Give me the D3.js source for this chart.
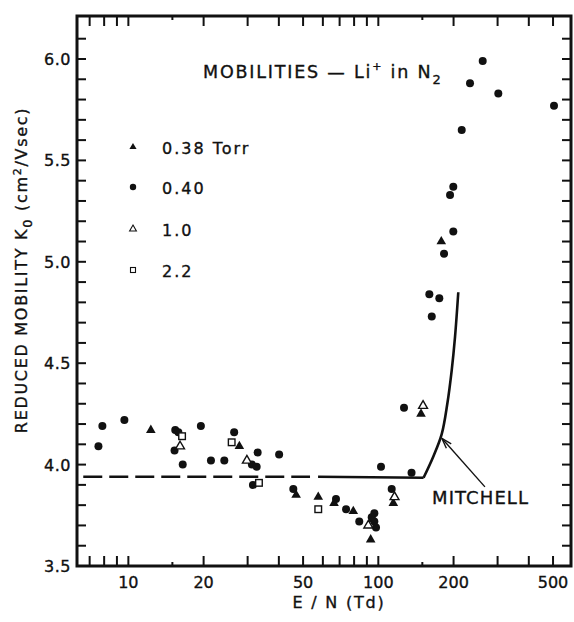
<!DOCTYPE html>
<html><head><meta charset="utf-8">
<script src="https://cdn.jsdelivr.net/npm/d3@7"></script>
<style>
body{margin:0;background:#fff}
svg{display:block}
text{font-family:"DejaVu Sans",sans-serif;fill:#111;stroke:#111;stroke-width:0.35px}
</style>
</head><body><svg id="c" width="574" height="622"></svg>
<script>
// ---------- data ----------
const xLabelTicks = [10, 20, 50, 100, 200, 500];
const xLongTicks = [7, 8, 9, 10, 20, 30, 40, 50, 60, 70, 80, 90, 100, 200, 300, 400, 500];
const xShortTicks = [15, 150];
const yLabelTicks = [3.5, 4.0, 4.5, 5.0, 5.5, 6.0];
const yMinorTicks = d3.range(35, 62).map(d => d / 10);

// 0.38 Torr (filled triangles)
const en038 = [12.3, 27.8, 46.9, 57.5, 66.5, 79.4, 93.2, 95.2, 114.8, 148.2, 178.6];
const k038  = [4.17, 4.09, 3.85, 3.84, 3.81, 3.77, 3.63, 3.73, 3.81, 4.25, 5.10];
// 0.40 Torr (filled circles)
const en040 = [7.59, 7.87, 9.64, 15.4, 15.85, 15.3, 16.5, 19.5, 21.4, 24.2, 26.5, 31.2, 32.6, 32.9, 40.1, 31.5,
  45.7, 67.7, 74.3, 83.9, 96.4, 94.1, 96.4, 97.9, 102.5, 113.1, 126.7, 135.8, 160, 175.4, 163.6, 183.2,
  199.5, 193.6, 199.5, 215.6, 232.7, 261.6, 302, 504.5];
const k040  = [4.09, 4.19, 4.22, 4.17, 4.16, 4.07, 4.00, 4.19, 4.02, 4.02, 4.16, 4.00, 3.99, 4.06, 4.05, 3.90,
  3.88, 3.83, 3.78, 3.72, 3.76, 3.74, 3.72, 3.69, 3.99, 3.88, 4.28, 3.96, 4.84, 4.82, 4.73, 5.04,
  5.15, 5.33, 5.37, 5.65, 5.88, 5.99, 5.83, 5.77];
// 1.0 Torr (open triangles)
const en10 = [16.1, 29.8, 91.2, 116.1, 151];
const k10  = [4.09, 4.02, 3.70, 3.84, 4.29];
// 2.2 Torr (open squares)
const en22 = [16.4, 25.9, 33.3, 57.5];
const k22  = [4.14, 4.11, 3.91, 3.78];

// Mitchell curve
const mitDashEN = [6.6, 53.3];
const mitDashK  = [3.94, 3.94];
const mitFlatEN = [57.4, 151.7];
const mitFlatK  = [3.94, 3.935];
const mitRiseEN = [151.7, 166, 179.3, 188.8, 196.6, 202.7, 208.9];
const mitRiseK  = [3.935, 4.04, 4.15, 4.30, 4.465, 4.63, 4.85];
const arrowEN = [267, 179.5];
const arrowK  = [3.89, 4.13];

const legendLabels = ["0.38 Torr", "0.40", "1.0", "2.2"];

// ---------- layout ----------
const L = 77, R = 571, T = 16, B = 566;
const svg = d3.select("#c");
const x = d3.scaleLog().domain([6.23, 590]).range([L, R]);
const y = d3.scaleLinear().domain([3.5, 3.5 + (B - T) / 202.8]).range([B, T]);

// ticks (inward)
const tk = svg.append("g").attr("stroke", "#111").attr("stroke-width", 2);
function xTicks(vals, len) {
  vals.forEach(v => {
    tk.append("line").attr("x1", x(v)).attr("x2", x(v)).attr("y1", B).attr("y2", B - len);
    tk.append("line").attr("x1", x(v)).attr("x2", x(v)).attr("y1", T).attr("y2", T + len);
  });
}
xTicks(xLongTicks, 10);
xTicks(xShortTicks, 4);
yMinorTicks.forEach(v => {
  tk.append("line").attr("x1", L).attr("x2", L + 9).attr("y1", y(v)).attr("y2", y(v));
  tk.append("line").attr("x1", R).attr("x2", R - 9).attr("y1", y(v)).attr("y2", y(v));
});

// frame
svg.append("rect").attr("x", L).attr("y", T).attr("width", R - L).attr("height", B - T)
  .attr("fill", "none").attr("stroke", "#111").attr("stroke-width", 3);

// tick labels
svg.append("g").selectAll("text").data(xLabelTicks).join("text")
  .attr("x", d => x(d)).attr("y", 588).attr("text-anchor", "middle")
  .attr("font-size", 16).text(d => d);
svg.append("g").selectAll("text").data(yLabelTicks).join("text")
  .attr("x", 71).attr("y", d => y(d) + 6).attr("text-anchor", "end")
  .attr("font-size", 16).attr("letter-spacing", 0.5).text(d => d.toFixed(1));

// axis titles
svg.append("text").attr("x", 339).attr("y", 608).attr("text-anchor", "middle")
  .attr("font-size", 16).attr("letter-spacing", 1.8).text("E / N (Td)");
const yt = svg.append("text").attr("transform", "translate(27,270) rotate(-90)")
  .attr("text-anchor", "middle").attr("font-size", 16).attr("letter-spacing", 1.7);
yt.append("tspan").text("REDUCED MOBILITY K");
yt.append("tspan").attr("dy", 5).attr("font-size", 13).text("0");
yt.append("tspan").attr("dy", -5).text(" (cm");
yt.append("tspan").attr("dy", -6).attr("font-size", 11).text("2");
yt.append("tspan").attr("dy", 6).text("/Vsec)");

// title
const tt = svg.append("text").attr("x", 203).attr("y", 78).attr("font-size", 17.5).attr("letter-spacing", 1.8);
tt.append("tspan").text("MOBILITIES — Li");
tt.append("tspan").attr("dy", -8).attr("font-size", 11).text("+");
tt.append("tspan").attr("dy", 8).text(" in N");
tt.append("tspan").attr("dy", 6).attr("font-size", 13).text("2");

// Mitchell curve
const line = d3.line().x(d => x(d[0])).y(d => y(d[1]));
svg.append("path").attr("d", line(d3.zip(mitDashEN, mitDashK))).attr("fill", "none")
  .attr("stroke", "#111").attr("stroke-width", 2.6).attr("stroke-dasharray", "19,7");
svg.append("path").attr("d", line(d3.zip(mitFlatEN, mitFlatK))).attr("fill", "none")
  .attr("stroke", "#111").attr("stroke-width", 2.6);
svg.append("path").attr("d", line.curve(d3.curveCatmullRom)(d3.zip(mitRiseEN, mitRiseK))).attr("fill", "none")
  .attr("stroke", "#111").attr("stroke-width", 2.6);

// arrow
const ax1 = x(arrowEN[0]), ay1 = y(arrowK[0]), ax2 = x(arrowEN[1]), ay2 = y(arrowK[1]);
svg.append("line").attr("x1", ax1).attr("y1", ay1).attr("x2", ax2).attr("y2", ay2)
  .attr("stroke", "#111").attr("stroke-width", 1.4);
const ang = Math.atan2(ay1 - ay2, ax1 - ax2);
[-0.3, 0.3].forEach(a => {
  svg.append("line").attr("x1", ax2).attr("y1", ay2)
    .attr("x2", ax2 + 11 * Math.cos(ang + a)).attr("y2", ay2 + 11 * Math.sin(ang + a))
    .attr("stroke", "#111").attr("stroke-width", 1.4);
});
svg.append("text").attr("x", 432).attr("y", 504).attr("font-size", 18).attr("letter-spacing", 1.1).text("MITCHELL");

// markers
const tri = d3.symbol().type(d3.symbolTriangle);
const g = svg.append("g");
g.selectAll(".c").data(d3.zip(en040, k040)).join("circle")
  .attr("cx", d => x(d[0])).attr("cy", d => y(d[1])).attr("r", 4).attr("fill", "#111");
g.selectAll(".ft").data(d3.zip(en038, k038)).join("path")
  .attr("transform", d => `translate(${x(d[0])},${y(d[1])})`).attr("d", tri.size(40)()).attr("fill", "#111");
g.selectAll(".ot").data(d3.zip(en10, k10)).join("path")
  .attr("transform", d => `translate(${x(d[0])},${y(d[1])})`).attr("d", tri.size(34)())
  .attr("fill", "#fff").attr("stroke", "#111").attr("stroke-width", 1.4);
g.selectAll(".sq").data(d3.zip(en22, k22)).join("rect")
  .attr("x", d => x(d[0]) - 3.3).attr("y", d => y(d[1]) - 3.3).attr("width", 6.6).attr("height", 6.6)
  .attr("fill", "#fff").attr("stroke", "#111").attr("stroke-width", 1.4);

// legend
const ly = [147, 187, 229, 270];
const lg = svg.append("g");
lg.append("path").attr("transform", `translate(133,${ly[0]})`).attr("d", tri.size(22)()).attr("fill", "#111");
lg.append("circle").attr("cx", 133).attr("cy", ly[1]).attr("r", 3.2).attr("fill", "#111");
lg.append("path").attr("transform", `translate(133,${ly[2]})`).attr("d", tri.size(20)())
  .attr("fill", "#fff").attr("stroke", "#111").attr("stroke-width", 1.1);
lg.append("rect").attr("x", 130.5).attr("y", ly[3] - 2.5).attr("width", 5).attr("height", 5)
  .attr("fill", "#fff").attr("stroke", "#111").attr("stroke-width", 1.1);
lg.selectAll("text").data(legendLabels).join("text")
  .attr("x", 162).attr("y", (d, i) => ly[i] + 7).attr("font-size", 16).attr("letter-spacing", 2)
  .text(d => d);
</script>
</body></html>
